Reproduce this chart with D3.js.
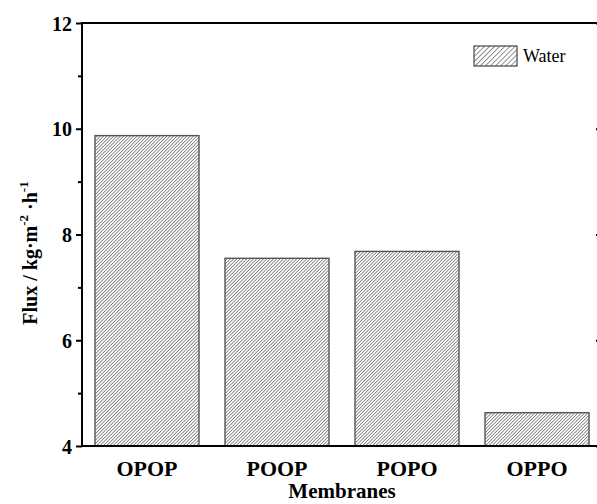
<!DOCTYPE html>
<html>
<head>
<meta charset="utf-8">
<script src="https://cdn.jsdelivr.net/npm/d3@7"></script>
<style>
  html, body { margin: 0; padding: 0; background: #fff; overflow: hidden; }
  svg { display: block; }
</style>
</head>
<body>
<div id="chart"></div>
<script>
// Water flux of each membrane
const categories = ["OPOP", "POOP", "POPO", "OPPO"];
const fluxValues = [9.87, 7.55, 7.68, 4.63];
const yTicks = [4, 6, 8, 10, 12];
const yMinorTicks = [5, 7, 9, 11];
const seriesName = "Water";

const W = 597, H = 504;
const margin = { left: 82, top: 23, right: -5, bottom: 58 };
const x0 = margin.left, x1 = W - margin.right;
const y0 = H - margin.bottom, y1 = margin.top;

const svg = d3.select("#chart").append("svg")
  .attr("width", W).attr("height", H);

const defs = svg.append("defs");
function hatch(id, gap, stroke, sw) {
  const p = defs.append("pattern")
    .attr("id", id)
    .attr("patternUnits", "userSpaceOnUse")
    .attr("width", gap).attr("height", gap)
    .attr("patternTransform", "rotate(45)");
  p.append("line")
    .attr("x1", 0).attr("y1", 0).attr("x2", 0).attr("y2", gap)
    .attr("stroke", stroke).attr("stroke-width", sw);
}
hatch("hatchBar", 2.35, "#262626", 1.0);
hatch("hatchLegend", 3.6, "#222", 1.0);

const x = d3.scaleBand().domain(categories).range([x0, x1]).paddingInner(0.2).paddingOuter(0.1);
const y = d3.scaleLinear().domain([4, 12]).range([y0, y1]);

// Bars
svg.append("g").selectAll("rect")
  .data(categories.map((c, i) => ({ c, v: fluxValues[i] })))
  .join("rect")
  .attr("x", d => x(d.c))
  .attr("y", d => y(d.v))
  .attr("width", x.bandwidth())
  .attr("height", d => y(4) - y(d.v))
  .attr("fill", "url(#hatchBar)")
  .attr("stroke", "#555")
  .attr("stroke-width", 1.4);

const serif = "'Liberation Serif', 'Times New Roman', serif";

// Left axis (outer ticks)
const left = svg.append("g").attr("transform", `translate(${x0},0)`)
  .call(d3.axisLeft(y).tickValues(yTicks).tickSize(6).tickPadding(4).tickFormat(d3.format("d")));
left.select(".domain").remove();
left.selectAll("line").attr("stroke", "#000").attr("stroke-width", 2);
left.selectAll("text")
  .attr("font-family", serif).attr("font-weight", "bold").attr("font-size", 20).attr("fill", "#000")
  .attr("dy", "0.35em");
svg.append("g").attr("transform", `translate(${x0},0)`)
  .call(d3.axisLeft(y).tickValues(yMinorTicks).tickSize(4).tickFormat(""))
  .call(g => g.select(".domain").remove())
  .selectAll("line").attr("stroke", "#000").attr("stroke-width", 2);

// Right axis (inner ticks)
svg.append("g").attr("transform", `translate(${x1},0)`)
  .call(d3.axisRight(y).tickValues(yTicks).tickSize(-6).tickFormat(""))
  .call(g => g.select(".domain").remove())
  .selectAll("line").attr("stroke", "#000").attr("stroke-width", 2);

// Frame
svg.append("line").attr("x1", x0).attr("x2", x0).attr("y1", y1 - 1).attr("y2", y0 + 1)
  .attr("stroke", "#000").attr("stroke-width", 2);
svg.append("line").attr("x1", x1).attr("x2", x1).attr("y1", y1 - 1).attr("y2", y0 + 1)
  .attr("stroke", "#000").attr("stroke-width", 2);
svg.append("line").attr("x1", x0 - 1).attr("x2", x1 + 1).attr("y1", y1).attr("y2", y1)
  .attr("stroke", "#000").attr("stroke-width", 2);
svg.append("line").attr("x1", x0 - 1).attr("x2", x1 + 1).attr("y1", y0).attr("y2", y0)
  .attr("stroke", "#000").attr("stroke-width", 2);

// Bottom axis labels
const bottom = svg.append("g").attr("transform", `translate(0,${y0})`)
  .call(d3.axisBottom(x).tickSize(0).tickPadding(30));
bottom.select(".domain").remove();
bottom.selectAll("text")
  .attr("font-family", serif).attr("font-weight", "bold").attr("font-size", 22).attr("fill", "#000")
  .attr("dy", 0);

// Axis titles
svg.append("text")
  .attr("x", 342).attr("y", 498)
  .attr("text-anchor", "middle")
  .attr("font-family", serif).attr("font-weight", "bold").attr("font-size", 21)
  .text("Membranes");

const yt = svg.append("text")
  .attr("transform", `translate(37,253) rotate(-90)`)
  .attr("text-anchor", "middle")
  .attr("font-family", serif).attr("font-weight", "bold").attr("font-size", 20);
yt.append("tspan").text("Flux / kg·m");
yt.append("tspan").attr("dy", -9).attr("font-size", 13).text("-2");
yt.append("tspan").attr("dy", 9).text(" ·h");
yt.append("tspan").attr("dy", -9).attr("font-size", 13).text("-1");

// Legend
const lg = svg.append("g").attr("transform", "translate(474,46)");
lg.append("rect").attr("width", 43).attr("height", 20)
  .attr("fill", "url(#hatchLegend)").attr("stroke", "#444").attr("stroke-width", 1.2);
lg.append("text").attr("x", 49).attr("y", 16)
  .attr("font-family", serif).attr("font-size", 18).text(seriesName);
</script>
</body>
</html>
